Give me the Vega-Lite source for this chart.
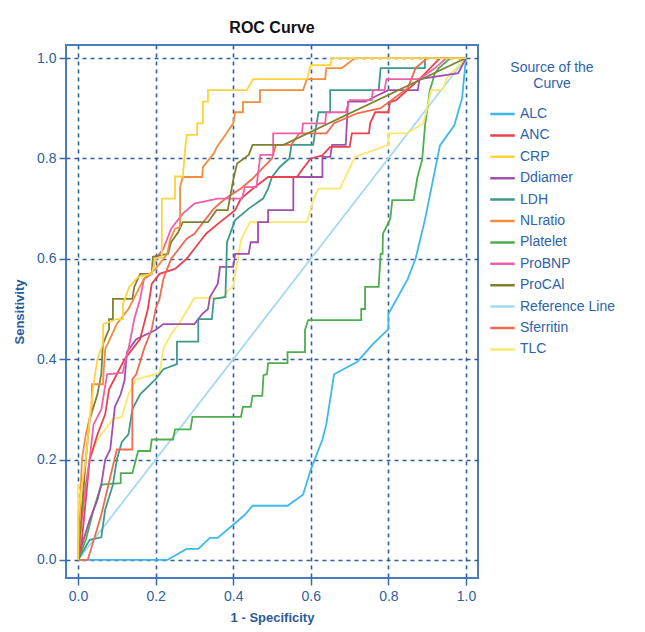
{
  "$schema": "https://vega.github.io/schema/vega-lite/v6.json",
  "width": 412,
  "height": 533,
  "autosize": {"type": "none"},
  "padding": {"left": 66, "top": 45, "right": 167, "bottom": 54},
  "title": {"text": "ROC Curve", "font": "Liberation Sans", "fontSize": 16, "fontWeight": "bold", "color": "#111111", "anchor": "middle", "offset": 9},
  "config": {
    "view": {"stroke": "#4a7cc0", "strokeWidth": 2},
    "axis": {
      "domain": false,
      "grid": true,
      "gridColor": "#2f5d9e",
      "gridDash": [4, 4],
      "gridWidth": 1.6,
      "tickColor": "#3a6ab0",
      "tickWidth": 1.5,
      "tickSize": 7,
      "labelColor": "#2f5f9f",
      "labelFont": "Liberation Sans",
      "labelFontSize": 14,
      "titleColor": "#2a5a9a",
      "titleFont": "Liberation Sans",
      "titleFontSize": 13,
      "titleFontWeight": "bold"
    }
  },
  "data": {"values": [
    {"s":"ALC","x":0,"y":0},{"s":"ALC","x":0.23,"y":0},{"s":"ALC","x":0.28,"y":0.022},{"s":"ALC","x":0.31,"y":0.022},{"s":"ALC","x":0.34,"y":0.044},{"s":"ALC","x":0.36,"y":0.044},{"s":"ALC","x":0.40,"y":0.07},{"s":"ALC","x":0.43,"y":0.09},{"s":"ALC","x":0.45,"y":0.108},{"s":"ALC","x":0.54,"y":0.108},{"s":"ALC","x":0.58,"y":0.13},{"s":"ALC","x":0.60,"y":0.18},{"s":"ALC","x":0.63,"y":0.24},{"s":"ALC","x":0.64,"y":0.27},{"s":"ALC","x":0.66,"y":0.37},{"s":"ALC","x":0.72,"y":0.395},{"s":"ALC","x":0.76,"y":0.43},{"s":"ALC","x":0.80,"y":0.46},{"s":"ALC","x":0.80,"y":0.49},{"s":"ALC","x":0.85,"y":0.56},{"s":"ALC","x":0.87,"y":0.60},{"s":"ALC","x":0.894,"y":0.677},{"s":"ALC","x":0.933,"y":0.826},{"s":"ALC","x":0.97,"y":0.866},{"s":"ALC","x":0.99,"y":0.92},{"s":"ALC","x":1,"y":1},

    {"s":"Reference Line","x":0,"y":0},{"s":"Reference Line","x":1,"y":1},

    {"s":"Platelet","x":0,"y":0},{"s":"Platelet","x":0.02,"y":0.04},{"s":"Platelet","x":0.04,"y":0.1},{"s":"Platelet","x":0.06,"y":0.15},{"s":"Platelet","x":0.11,"y":0.153},{"s":"Platelet","x":0.11,"y":0.173},{"s":"Platelet","x":0.14,"y":0.173},{"s":"Platelet","x":0.155,"y":0.217},{"s":"Platelet","x":0.186,"y":0.217},{"s":"Platelet","x":0.19,"y":0.24},{"s":"Platelet","x":0.245,"y":0.24},{"s":"Platelet","x":0.25,"y":0.26},{"s":"Platelet","x":0.29,"y":0.26},{"s":"Platelet","x":0.295,"y":0.285},{"s":"Platelet","x":0.42,"y":0.285},{"s":"Platelet","x":0.425,"y":0.305},{"s":"Platelet","x":0.445,"y":0.305},{"s":"Platelet","x":0.45,"y":0.327},{"s":"Platelet","x":0.475,"y":0.327},{"s":"Platelet","x":0.478,"y":0.368},{"s":"Platelet","x":0.487,"y":0.37},{"s":"Platelet","x":0.49,"y":0.392},{"s":"Platelet","x":0.54,"y":0.392},{"s":"Platelet","x":0.54,"y":0.414},{"s":"Platelet","x":0.585,"y":0.414},{"s":"Platelet","x":0.585,"y":0.458},{"s":"Platelet","x":0.593,"y":0.478},{"s":"Platelet","x":0.73,"y":0.478},{"s":"Platelet","x":0.73,"y":0.5},{"s":"Platelet","x":0.74,"y":0.5},{"s":"Platelet","x":0.74,"y":0.544},{"s":"Platelet","x":0.775,"y":0.544},{"s":"Platelet","x":0.78,"y":0.61},{"s":"Platelet","x":0.785,"y":0.61},{"s":"Platelet","x":0.786,"y":0.65},{"s":"Platelet","x":0.805,"y":0.68},{"s":"Platelet","x":0.81,"y":0.717},{"s":"Platelet","x":0.865,"y":0.717},{"s":"Platelet","x":0.875,"y":0.763},{"s":"Platelet","x":0.887,"y":0.797},{"s":"Platelet","x":0.895,"y":0.87},{"s":"Platelet","x":0.9,"y":0.896},{"s":"Platelet","x":0.907,"y":0.936},{"s":"Platelet","x":0.92,"y":0.97},{"s":"Platelet","x":0.93,"y":0.98},{"s":"Platelet","x":0.96,"y":1},{"s":"Platelet","x":1,"y":1},

    {"s":"TLC","x":0,"y":0},{"s":"TLC","x":0,"y":0.15},{"s":"TLC","x":0.02,"y":0.15},{"s":"TLC","x":0.03,"y":0.2},{"s":"TLC","x":0.05,"y":0.24},{"s":"TLC","x":0.07,"y":0.26},{"s":"TLC","x":0.09,"y":0.28},{"s":"TLC","x":0.113,"y":0.285},{"s":"TLC","x":0.13,"y":0.33},{"s":"TLC","x":0.15,"y":0.36},{"s":"TLC","x":0.21,"y":0.372},{"s":"TLC","x":0.22,"y":0.42},{"s":"TLC","x":0.24,"y":0.45},{"s":"TLC","x":0.26,"y":0.47},{"s":"TLC","x":0.3,"y":0.522},{"s":"TLC","x":0.374,"y":0.522},{"s":"TLC","x":0.387,"y":0.538},{"s":"TLC","x":0.4,"y":0.544},{"s":"TLC","x":0.42,"y":0.638},{"s":"TLC","x":0.443,"y":0.673},{"s":"TLC","x":0.59,"y":0.673},{"s":"TLC","x":0.606,"y":0.717},{"s":"TLC","x":0.62,"y":0.74},{"s":"TLC","x":0.675,"y":0.74},{"s":"TLC","x":0.7,"y":0.78},{"s":"TLC","x":0.714,"y":0.803},{"s":"TLC","x":0.8,"y":0.827},{"s":"TLC","x":0.8,"y":0.85},{"s":"TLC","x":0.848,"y":0.85},{"s":"TLC","x":0.89,"y":0.87},{"s":"TLC","x":0.9,"y":0.9},{"s":"TLC","x":0.91,"y":0.936},{"s":"TLC","x":0.94,"y":0.936},{"s":"TLC","x":0.95,"y":0.96},{"s":"TLC","x":1,"y":1},

    {"s":"Ddiamer","x":0,"y":0},{"s":"Ddiamer","x":0.01,"y":0.03},{"s":"Ddiamer","x":0.03,"y":0.08},{"s":"Ddiamer","x":0.05,"y":0.12},{"s":"Ddiamer","x":0.06,"y":0.15},{"s":"Ddiamer","x":0.07,"y":0.2},{"s":"Ddiamer","x":0.083,"y":0.22},{"s":"Ddiamer","x":0.09,"y":0.27},{"s":"Ddiamer","x":0.095,"y":0.305},{"s":"Ddiamer","x":0.11,"y":0.33},{"s":"Ddiamer","x":0.12,"y":0.358},{"s":"Ddiamer","x":0.126,"y":0.414},{"s":"Ddiamer","x":0.15,"y":0.44},{"s":"Ddiamer","x":0.2,"y":0.458},{"s":"Ddiamer","x":0.22,"y":0.47},{"s":"Ddiamer","x":0.3,"y":0.47},{"s":"Ddiamer","x":0.32,"y":0.49},{"s":"Ddiamer","x":0.335,"y":0.5},{"s":"Ddiamer","x":0.34,"y":0.524},{"s":"Ddiamer","x":0.36,"y":0.55},{"s":"Ddiamer","x":0.366,"y":0.584},{"s":"Ddiamer","x":0.4,"y":0.584},{"s":"Ddiamer","x":0.405,"y":0.61},{"s":"Ddiamer","x":0.44,"y":0.61},{"s":"Ddiamer","x":0.445,"y":0.633},{"s":"Ddiamer","x":0.464,"y":0.633},{"s":"Ddiamer","x":0.464,"y":0.673},{"s":"Ddiamer","x":0.49,"y":0.673},{"s":"Ddiamer","x":0.49,"y":0.697},{"s":"Ddiamer","x":0.555,"y":0.697},{"s":"Ddiamer","x":0.555,"y":0.763},{"s":"Ddiamer","x":0.63,"y":0.763},{"s":"Ddiamer","x":0.63,"y":0.803},{"s":"Ddiamer","x":0.65,"y":0.803},{"s":"Ddiamer","x":0.655,"y":0.827},{"s":"Ddiamer","x":0.69,"y":0.827},{"s":"Ddiamer","x":0.696,"y":0.913},{"s":"Ddiamer","x":0.74,"y":0.913},{"s":"Ddiamer","x":0.77,"y":0.925},{"s":"Ddiamer","x":0.8,"y":0.936},{"s":"Ddiamer","x":0.876,"y":0.936},{"s":"Ddiamer","x":0.88,"y":0.958},{"s":"Ddiamer","x":0.98,"y":0.97},{"s":"Ddiamer","x":1,"y":1},

    {"s":"LDH","x":0,"y":0},{"s":"LDH","x":0.03,"y":0.04},{"s":"LDH","x":0.06,"y":0.045},{"s":"LDH","x":0.07,"y":0.1},{"s":"LDH","x":0.09,"y":0.15},{"s":"LDH","x":0.1,"y":0.2},{"s":"LDH","x":0.113,"y":0.235},{"s":"LDH","x":0.13,"y":0.25},{"s":"LDH","x":0.14,"y":0.3},{"s":"LDH","x":0.16,"y":0.33},{"s":"LDH","x":0.2,"y":0.36},{"s":"LDH","x":0.22,"y":0.38},{"s":"LDH","x":0.255,"y":0.39},{"s":"LDH","x":0.255,"y":0.435},{"s":"LDH","x":0.31,"y":0.435},{"s":"LDH","x":0.31,"y":0.48},{"s":"LDH","x":0.345,"y":0.48},{"s":"LDH","x":0.35,"y":0.52},{"s":"LDH","x":0.38,"y":0.524},{"s":"LDH","x":0.384,"y":0.633},{"s":"LDH","x":0.405,"y":0.677},{"s":"LDH","x":0.44,"y":0.7},{"s":"LDH","x":0.477,"y":0.72},{"s":"LDH","x":0.49,"y":0.74},{"s":"LDH","x":0.5,"y":0.763},{"s":"LDH","x":0.52,"y":0.783},{"s":"LDH","x":0.545,"y":0.8},{"s":"LDH","x":0.55,"y":0.827},{"s":"LDH","x":0.606,"y":0.827},{"s":"LDH","x":0.615,"y":0.87},{"s":"LDH","x":0.62,"y":0.892},{"s":"LDH","x":0.65,"y":0.892},{"s":"LDH","x":0.65,"y":0.936},{"s":"LDH","x":0.775,"y":0.936},{"s":"LDH","x":0.78,"y":0.98},{"s":"LDH","x":0.894,"y":0.98},{"s":"LDH","x":0.894,"y":1},{"s":"LDH","x":1,"y":1},

    {"s":"ANC","x":0,"y":0},{"s":"ANC","x":0.01,"y":0.04},{"s":"ANC","x":0.02,"y":0.12},{"s":"ANC","x":0.03,"y":0.2},{"s":"ANC","x":0.05,"y":0.25},{"s":"ANC","x":0.07,"y":0.29},{"s":"ANC","x":0.08,"y":0.34},{"s":"ANC","x":0.1,"y":0.37},{"s":"ANC","x":0.12,"y":0.4},{"s":"ANC","x":0.14,"y":0.42},{"s":"ANC","x":0.16,"y":0.44},{"s":"ANC","x":0.18,"y":0.5},{"s":"ANC","x":0.19,"y":0.55},{"s":"ANC","x":0.21,"y":0.57},{"s":"ANC","x":0.25,"y":0.58},{"s":"ANC","x":0.28,"y":0.6},{"s":"ANC","x":0.3,"y":0.62},{"s":"ANC","x":0.314,"y":0.634},{"s":"ANC","x":0.33,"y":0.65},{"s":"ANC","x":0.366,"y":0.673},{"s":"ANC","x":0.405,"y":0.697},{"s":"ANC","x":0.42,"y":0.72},{"s":"ANC","x":0.456,"y":0.743},{"s":"ANC","x":0.49,"y":0.763},{"s":"ANC","x":0.564,"y":0.763},{"s":"ANC","x":0.58,"y":0.78},{"s":"ANC","x":0.6,"y":0.8},{"s":"ANC","x":0.63,"y":0.806},{"s":"ANC","x":0.65,"y":0.823},{"s":"ANC","x":0.7,"y":0.823},{"s":"ANC","x":0.706,"y":0.85},{"s":"ANC","x":0.75,"y":0.85},{"s":"ANC","x":0.753,"y":0.87},{"s":"ANC","x":0.766,"y":0.892},{"s":"ANC","x":0.8,"y":0.892},{"s":"ANC","x":0.804,"y":0.912},{"s":"ANC","x":0.82,"y":0.916},{"s":"ANC","x":0.88,"y":0.958},{"s":"ANC","x":0.933,"y":1},{"s":"ANC","x":1,"y":1},

    {"s":"Sferritin","x":0,"y":0},{"s":"Sferritin","x":0.025,"y":0},{"s":"Sferritin","x":0.06,"y":0.09},{"s":"Sferritin","x":0.1,"y":0.22},{"s":"Sferritin","x":0.14,"y":0.22},{"s":"Sferritin","x":0.14,"y":0.36},{"s":"Sferritin","x":0.15,"y":0.37},{"s":"Sferritin","x":0.17,"y":0.42},{"s":"Sferritin","x":0.19,"y":0.46},{"s":"Sferritin","x":0.2,"y":0.5},{"s":"Sferritin","x":0.21,"y":0.52},{"s":"Sferritin","x":0.22,"y":0.56},{"s":"Sferritin","x":0.24,"y":0.6},{"s":"Sferritin","x":0.26,"y":0.62},{"s":"Sferritin","x":0.28,"y":0.64},{"s":"Sferritin","x":0.3,"y":0.65},{"s":"Sferritin","x":0.32,"y":0.67},{"s":"Sferritin","x":0.35,"y":0.7},{"s":"Sferritin","x":0.38,"y":0.72},{"s":"Sferritin","x":0.42,"y":0.74},{"s":"Sferritin","x":0.45,"y":0.76},{"s":"Sferritin","x":0.5,"y":0.8},{"s":"Sferritin","x":0.51,"y":0.827},{"s":"Sferritin","x":0.55,"y":0.827},{"s":"Sferritin","x":0.57,"y":0.85},{"s":"Sferritin","x":0.64,"y":0.85},{"s":"Sferritin","x":0.66,"y":0.87},{"s":"Sferritin","x":0.72,"y":0.89},{"s":"Sferritin","x":0.78,"y":0.9},{"s":"Sferritin","x":0.85,"y":0.94},{"s":"Sferritin","x":0.87,"y":0.98},{"s":"Sferritin","x":0.9,"y":1},{"s":"Sferritin","x":1,"y":1},

    {"s":"ProBNP","x":0,"y":0},{"s":"ProBNP","x":0.01,"y":0.08},{"s":"ProBNP","x":0.02,"y":0.15},{"s":"ProBNP","x":0.03,"y":0.2},{"s":"ProBNP","x":0.04,"y":0.27},{"s":"ProBNP","x":0.06,"y":0.3},{"s":"ProBNP","x":0.075,"y":0.37},{"s":"ProBNP","x":0.115,"y":0.373},{"s":"ProBNP","x":0.13,"y":0.42},{"s":"ProBNP","x":0.145,"y":0.48},{"s":"ProBNP","x":0.16,"y":0.52},{"s":"ProBNP","x":0.17,"y":0.56},{"s":"ProBNP","x":0.19,"y":0.57},{"s":"ProBNP","x":0.2,"y":0.6},{"s":"ProBNP","x":0.22,"y":0.62},{"s":"ProBNP","x":0.24,"y":0.66},{"s":"ProBNP","x":0.27,"y":0.69},{"s":"ProBNP","x":0.3,"y":0.71},{"s":"ProBNP","x":0.36,"y":0.72},{"s":"ProBNP","x":0.423,"y":0.72},{"s":"ProBNP","x":0.43,"y":0.743},{"s":"ProBNP","x":0.46,"y":0.743},{"s":"ProBNP","x":0.47,"y":0.807},{"s":"ProBNP","x":0.503,"y":0.807},{"s":"ProBNP","x":0.503,"y":0.85},{"s":"ProBNP","x":0.577,"y":0.85},{"s":"ProBNP","x":0.58,"y":0.87},{"s":"ProBNP","x":0.637,"y":0.87},{"s":"ProBNP","x":0.64,"y":0.892},{"s":"ProBNP","x":0.69,"y":0.892},{"s":"ProBNP","x":0.7,"y":0.916},{"s":"ProBNP","x":0.757,"y":0.916},{"s":"ProBNP","x":0.76,"y":0.936},{"s":"ProBNP","x":0.79,"y":0.936},{"s":"ProBNP","x":0.795,"y":0.958},{"s":"ProBNP","x":0.88,"y":0.958},{"s":"ProBNP","x":0.92,"y":0.98},{"s":"ProBNP","x":0.95,"y":1},{"s":"ProBNP","x":1,"y":1},

    {"s":"ProCAl","x":0,"y":0},{"s":"ProCAl","x":0.01,"y":0.1},{"s":"ProCAl","x":0.02,"y":0.2},{"s":"ProCAl","x":0.03,"y":0.28},{"s":"ProCAl","x":0.05,"y":0.33},{"s":"ProCAl","x":0.06,"y":0.37},{"s":"ProCAl","x":0.064,"y":0.43},{"s":"ProCAl","x":0.08,"y":0.46},{"s":"ProCAl","x":0.08,"y":0.48},{"s":"ProCAl","x":0.09,"y":0.48},{"s":"ProCAl","x":0.09,"y":0.52},{"s":"ProCAl","x":0.14,"y":0.52},{"s":"ProCAl","x":0.145,"y":0.544},{"s":"ProCAl","x":0.16,"y":0.57},{"s":"ProCAl","x":0.19,"y":0.57},{"s":"ProCAl","x":0.193,"y":0.604},{"s":"ProCAl","x":0.232,"y":0.61},{"s":"ProCAl","x":0.24,"y":0.633},{"s":"ProCAl","x":0.258,"y":0.653},{"s":"ProCAl","x":0.27,"y":0.673},{"s":"ProCAl","x":0.335,"y":0.673},{"s":"ProCAl","x":0.357,"y":0.697},{"s":"ProCAl","x":0.386,"y":0.697},{"s":"ProCAl","x":0.4,"y":0.757},{"s":"ProCAl","x":0.41,"y":0.79},{"s":"ProCAl","x":0.44,"y":0.807},{"s":"ProCAl","x":0.45,"y":0.827},{"s":"ProCAl","x":0.53,"y":0.827},{"s":"ProCAl","x":1,"y":1},

    {"s":"NLratio","x":0,"y":0},{"s":"NLratio","x":0.005,"y":0.1},{"s":"NLratio","x":0.01,"y":0.2},{"s":"NLratio","x":0.02,"y":0.25},{"s":"NLratio","x":0.035,"y":0.3},{"s":"NLratio","x":0.036,"y":0.35},{"s":"NLratio","x":0.064,"y":0.35},{"s":"NLratio","x":0.07,"y":0.42},{"s":"NLratio","x":0.1,"y":0.47},{"s":"NLratio","x":0.13,"y":0.5},{"s":"NLratio","x":0.15,"y":0.53},{"s":"NLratio","x":0.17,"y":0.56},{"s":"NLratio","x":0.2,"y":0.58},{"s":"NLratio","x":0.23,"y":0.61},{"s":"NLratio","x":0.237,"y":0.637},{"s":"NLratio","x":0.25,"y":0.66},{"s":"NLratio","x":0.263,"y":0.663},{"s":"NLratio","x":0.263,"y":0.743},{"s":"NLratio","x":0.27,"y":0.763},{"s":"NLratio","x":0.32,"y":0.763},{"s":"NLratio","x":0.322,"y":0.783},{"s":"NLratio","x":0.35,"y":0.81},{"s":"NLratio","x":0.358,"y":0.823},{"s":"NLratio","x":0.38,"y":0.847},{"s":"NLratio","x":0.4,"y":0.87},{"s":"NLratio","x":0.405,"y":0.892},{"s":"NLratio","x":0.425,"y":0.892},{"s":"NLratio","x":0.425,"y":0.912},{"s":"NLratio","x":0.469,"y":0.912},{"s":"NLratio","x":0.469,"y":0.936},{"s":"NLratio","x":0.58,"y":0.936},{"s":"NLratio","x":0.59,"y":0.958},{"s":"NLratio","x":0.637,"y":0.958},{"s":"NLratio","x":0.64,"y":0.98},{"s":"NLratio","x":0.68,"y":0.98},{"s":"NLratio","x":0.714,"y":1},{"s":"NLratio","x":1,"y":1},

    {"s":"CRP","x":0,"y":0},{"s":"CRP","x":0,"y":0.08},{"s":"CRP","x":0.01,"y":0.15},{"s":"CRP","x":0.02,"y":0.2},{"s":"CRP","x":0.03,"y":0.28},{"s":"CRP","x":0.04,"y":0.35},{"s":"CRP","x":0.05,"y":0.4},{"s":"CRP","x":0.064,"y":0.43},{"s":"CRP","x":0.065,"y":0.47},{"s":"CRP","x":0.1,"y":0.48},{"s":"CRP","x":0.116,"y":0.48},{"s":"CRP","x":0.116,"y":0.51},{"s":"CRP","x":0.132,"y":0.544},{"s":"CRP","x":0.155,"y":0.564},{"s":"CRP","x":0.19,"y":0.57},{"s":"CRP","x":0.2,"y":0.6},{"s":"CRP","x":0.216,"y":0.603},{"s":"CRP","x":0.216,"y":0.72},{"s":"CRP","x":0.25,"y":0.72},{"s":"CRP","x":0.25,"y":0.764},{"s":"CRP","x":0.27,"y":0.764},{"s":"CRP","x":0.276,"y":0.817},{"s":"CRP","x":0.28,"y":0.847},{"s":"CRP","x":0.307,"y":0.847},{"s":"CRP","x":0.307,"y":0.87},{"s":"CRP","x":0.322,"y":0.87},{"s":"CRP","x":0.322,"y":0.913},{"s":"CRP","x":0.335,"y":0.913},{"s":"CRP","x":0.335,"y":0.936},{"s":"CRP","x":0.435,"y":0.936},{"s":"CRP","x":0.451,"y":0.958},{"s":"CRP","x":0.59,"y":0.958},{"s":"CRP","x":0.6,"y":0.986},{"s":"CRP","x":0.65,"y":0.986},{"s":"CRP","x":0.655,"y":1},{"s":"CRP","x":1,"y":1}
  ]},
  "mark": {"type": "line", "strokeWidth": 1.8, "strokeJoin": "miter"},
  "encoding": {
    "x": {"field": "x", "type": "quantitative",
      "scale": {"domain": [-0.031, 1.031], "nice": false, "zero": false},
      "axis": {"title": "1 - Specificity", "values": [0, 0.2, 0.4, 0.6, 0.8, 1], "format": ".1f", "labelPadding": 4, "titlePadding": 8}},
    "y": {"field": "y", "type": "quantitative",
      "scale": {"domain": [-0.036, 1.026], "nice": false, "zero": false},
      "axis": {"title": "Sensitivity", "values": [0, 0.2, 0.4, 0.6, 0.8, 1], "format": ".1f", "labelPadding": 3, "titlePadding": 10}},
    "color": {"field": "s", "type": "nominal",
      "scale": {
        "domain": ["ALC", "ANC", "CRP", "Ddiamer", "LDH", "NLratio", "Platelet", "ProBNP", "ProCAl", "Reference Line", "Sferritin", "TLC"],
        "range": ["#3db8ea", "#e8424e", "#fdd43a", "#a04fad", "#3d9a8b", "#f28d3e", "#4cae4f", "#ef60a8", "#808030", "#a5d9f2", "#f26b50", "#fde76a"]
      },
      "legend": {
        "title": ["Source of the", "Curve"],
        "orient": "none",
        "legendX": 423,
        "legendY": 16,
        "titleFont": "Liberation Sans",
        "titleFontSize": 14,
        "titleFontWeight": "normal",
        "titleColor": "#2f62a8",
        "titleAlign": "center",
        "titleAnchor": "middle",
        "titleLineHeight": 16,
        "titlePadding": 15,
        "labelFont": "Liberation Sans",
        "labelFontSize": 14,
        "labelColor": "#2f62a8",
        "labelOffset": 4,
        "symbolType": "stroke",
        "symbolSize": 600,
        "symbolStrokeWidth": 2.5,
        "clipHeight": 16,
        "rowPadding": 5.4
      }
    },
    "order": {"value": null}
  }
}
